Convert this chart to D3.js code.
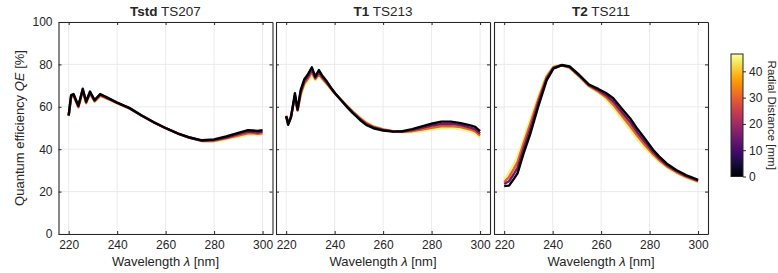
<!DOCTYPE html>
<html><head><meta charset="utf-8">
<script src="https://cdn.jsdelivr.net/npm/d3@7"></script>
<style>body{margin:0;background:#fff;} text{font-family:"Liberation Sans",Arial,sans-serif;fill:#262626;}</style>
</head><body><svg id="c" width="778" height="273"></svg>
<script>
const radii = [45, 30, 15, 0];
const xTicks = [220, 240, 260, 280, 300];
const yTicks = [0, 20, 40, 60, 80, 100];
const cbTicks = [0, 10, 20, 30, 40];

const tstdWl = [220,221,222,224,225.8,227.2,228.8,230.7,233,236,240,245,250,255,260,265,270,275,280,285,290,294,296,298,300];
const tstdR0  = [56,65.5,66,60.5,68.5,62.5,67.2,63.2,66,64.3,62,59.5,56,52.8,50,47.5,45.5,44.2,44.6,46,47.7,49,48.8,48.6,49];
const tstdR15 = [55.8,65,65.7,60.2,68,62.2,66.7,62.9,65.7,64.1,61.9,59.4,55.9,52.7,49.9,47.4,45.4,44,44.3,45.5,47.1,48.3,48.1,47.9,48.3];
const tstdR30 = [55.7,64.5,65.3,59.8,67.5,61.8,66.3,62.6,65.3,63.8,61.7,59.3,55.9,52.7,49.9,47.4,45.4,43.9,43.9,45.1,46.4,47.5,47.5,47.3,47.5];
const tstdR45 = [55.5,64,65,59.5,67,61.5,65.8,62.3,65,63.6,61.6,59.2,55.8,52.6,49.8,47.3,45.3,43.7,43.6,44.6,45.8,46.8,46.8,46.6,46.8];

const t1Wl = [220,220.8,222,223.6,224.7,226,227.5,228.8,230.6,232,233.5,235,236.8,238.5,240.2,242.5,245,247.5,250.5,253,256,260,264,268,272,276,280,284,288,292,296,298,300];
const t1R0  = [55.5,51.5,55,66.4,58.8,68,73,75,78.6,74.2,77.3,74.5,71.9,69,66.4,63.3,60,57,53.8,51.5,49.9,48.8,48.3,48.5,49.5,50.8,52,53,53,52.3,51.2,50.5,48.5];
const t1R15 = [55.7,52,55.3,65.4,58.5,67,72,74,77.4,73.6,76.4,73.8,71.4,68.7,66.3,63.4,60.3,57.3,54.2,51.9,50.3,49.1,48.4,48.3,49,50.1,51.1,51.9,52,51.4,50.2,49.4,47.4];
const t1R30 = [55.8,52.5,55.7,64.5,58.3,66,71,73,76.2,73.1,75.4,73.2,70.9,68.5,66.1,63.4,60.5,57.7,54.6,52.4,50.6,49.3,48.5,48.2,48.5,49.3,50.1,50.8,50.9,50.4,49.3,48.4,46.4];
const t1R45 = [56,53,56,63.5,58,65,70,72,75,72.5,74.5,72.5,70.5,68.2,66,63.5,60.8,58,55,52.8,51,49.6,48.6,48,48,48.6,49.2,49.8,49.9,49.5,48.3,47.3,45.3];

const t2Wl = [220,222,224,225.5,228,230.7,234,237.5,240.3,243.7,247,251,255,259,262,265,269,272,275,278,281.5,284,287,291,295,300];
const t2R0  = [22.6,22.8,26,28.6,38,47,60,72.5,78,79.7,79,75,70.5,68.3,66.5,64,58.5,54.5,49.5,45,39.6,36.5,33.3,30.2,27.8,25.5];
const t2R15 = [23.6,24.9,28.3,31.2,40.3,49.3,61.7,73.3,78.3,79.6,78.8,74.7,70.2,67.7,65.5,62.5,56.8,52.7,47.8,43.5,38.6,35.7,32.6,29.7,27.4,25.2];
const t2R30 = [24.5,26.9,30.7,33.9,42.7,51.7,63.3,74.2,78.7,79.6,78.5,74.3,69.8,67.1,64.5,61,55.2,50.8,46.2,42,37.5,34.8,32,29.2,26.9,24.8];
const t2R45 = [25.5,29,33,36.5,45,54,65,75,79,79.5,78.3,74,69.5,66.5,63.5,59.5,53.5,49,44.5,40.5,36.5,34,31.3,28.7,26.5,24.5];

const panels = [
  {bold:"Tstd", name:"TS207", wl:tstdWl, series:{0:tstdR0,15:tstdR15,30:tstdR30,45:tstdR45}, left:58.5},
  {bold:"T1", name:"TS213", wl:t1Wl, series:{0:t1R0,15:t1R15,30:t1R30,45:t1R45}, left:276},
  {bold:"T2", name:"TS211", wl:t2Wl, series:{0:t2R0,15:t2R15,30:t2R30,45:t2R45}, left:494}
];

const svg = d3.select("#c");
const W = 214, pTop = 22, pBot = 234;
const y = d3.scaleLinear().domain([0,100]).range([pBot, pTop]);
const cmax = 46.6;
const color = r => d3.interpolateInferno(r / cmax);
const axisCol = "#262626";

panels.forEach((p, pi) => {
  const x = d3.scaleLinear().domain([215.8, 304.1]).range([p.left, p.left + W]);
  const g = svg.append("g");
  g.selectAll(".gx").data(xTicks).enter().append("line")
    .attr("x1", d => x(d)).attr("x2", d => x(d)).attr("y1", pTop).attr("y2", pBot)
    .attr("stroke", "#ebebeb").attr("stroke-width", 1);
  g.selectAll(".gy").data(yTicks).enter().append("line")
    .attr("x1", p.left).attr("x2", p.left + W).attr("y1", d => y(d)).attr("y2", d => y(d))
    .attr("stroke", "#ebebeb").attr("stroke-width", 1);
  radii.forEach(r => {
    const vals = p.series[r];
    const pts = p.wl.map((w, i) => [w, vals[i]]);
    g.append("path").datum(pts)
      .attr("d", d3.line().x(d => x(d[0])).y(d => y(d[1])))
      .attr("fill", "none").attr("stroke", color(r)).attr("stroke-width", 2.4)
      .attr("stroke-linejoin", "round");
  });
  const ax = (gen) => gen.tickSizeInner(-3).tickSizeOuter(0).tickPadding(6);
  const xb = g.append("g").attr("transform", `translate(0,${pBot})`)
    .call(ax(d3.axisBottom(x).tickValues(xTicks).tickFormat(d3.format("d"))));
  const xt = g.append("g").attr("transform", `translate(0,${pTop})`)
    .call(ax(d3.axisTop(x).tickValues(xTicks)).tickFormat(""));
  const yl = g.append("g").attr("transform", `translate(${p.left},0)`)
    .call(ax(d3.axisLeft(y).tickValues(yTicks)).tickFormat(pi === 0 ? d3.format("d") : ""));
  const yr = g.append("g").attr("transform", `translate(${p.left + W},0)`)
    .call(ax(d3.axisRight(y).tickValues(yTicks)).tickFormat(""));
  [xb, xt, yl, yr].forEach(a => {
    a.selectAll("path").attr("stroke", axisCol).attr("stroke-width", 1.1);
    a.selectAll("line").attr("stroke", axisCol);
    a.selectAll("text").attr("font-size", 12).attr("fill", axisCol)
      .style("font-family", '"Liberation Sans",Arial,sans-serif');
  });
  const t = svg.append("text").attr("x", p.left + W / 2).attr("y", 15.5)
    .attr("text-anchor", "middle").attr("font-size", 13.5);
  t.append("tspan").attr("font-weight", "bold").text(p.bold);
  t.append("tspan").text(" " + p.name);
  const xl = svg.append("text").attr("x", p.left + W / 2).attr("y", 266)
    .attr("text-anchor", "middle").attr("font-size", 13);
  xl.append("tspan").text("Wavelength ");
  xl.append("tspan").attr("font-style", "italic").text("λ");
  xl.append("tspan").text(" [nm]");
});

const ylab = svg.append("text").attr("transform", `translate(24,${(pTop + pBot) / 2}) rotate(-90)`)
  .attr("text-anchor", "middle").attr("font-size", 13);
ylab.append("tspan").text("Quantum efficiency ");
ylab.append("tspan").attr("font-style", "italic").text("QE");
ylab.append("tspan").text(" [%]");

const cbX = 731, cbW = 12, cbTop = 54, cbBot = 176.5;
const cy = d3.scaleLinear().domain([0, cmax]).range([cbBot, cbTop]);
const defs = svg.append("defs");
const grad = defs.append("linearGradient").attr("id", "cbg").attr("x1", 0).attr("y1", 1).attr("x2", 0).attr("y2", 0);
d3.range(0, 1.0001, 0.05).forEach(s => grad.append("stop").attr("offset", s).attr("stop-color", d3.interpolateInferno(s)));
svg.append("rect").attr("x", cbX).attr("y", cbTop).attr("width", cbW).attr("height", cbBot - cbTop)
  .attr("fill", "url(#cbg)").attr("stroke", axisCol).attr("stroke-width", 1);
const cba = svg.append("g").attr("transform", `translate(${cbX + cbW},0)`)
  .call(d3.axisRight(cy).tickValues(cbTicks).tickSizeInner(3).tickSizeOuter(0).tickPadding(3).tickFormat(d3.format("d")));
cba.select(".domain").remove();
cba.selectAll("line").attr("stroke", axisCol);
cba.selectAll("text").attr("font-size", 12).attr("fill", axisCol).style("font-family", '"Liberation Sans",Arial,sans-serif');
svg.append("text").attr("transform", `translate(768,${(cbTop + cbBot) / 2}) rotate(90)`)
  .attr("text-anchor", "middle").attr("font-size", 11.5).text("Radial Distance [mm]");
</script></body></html>
